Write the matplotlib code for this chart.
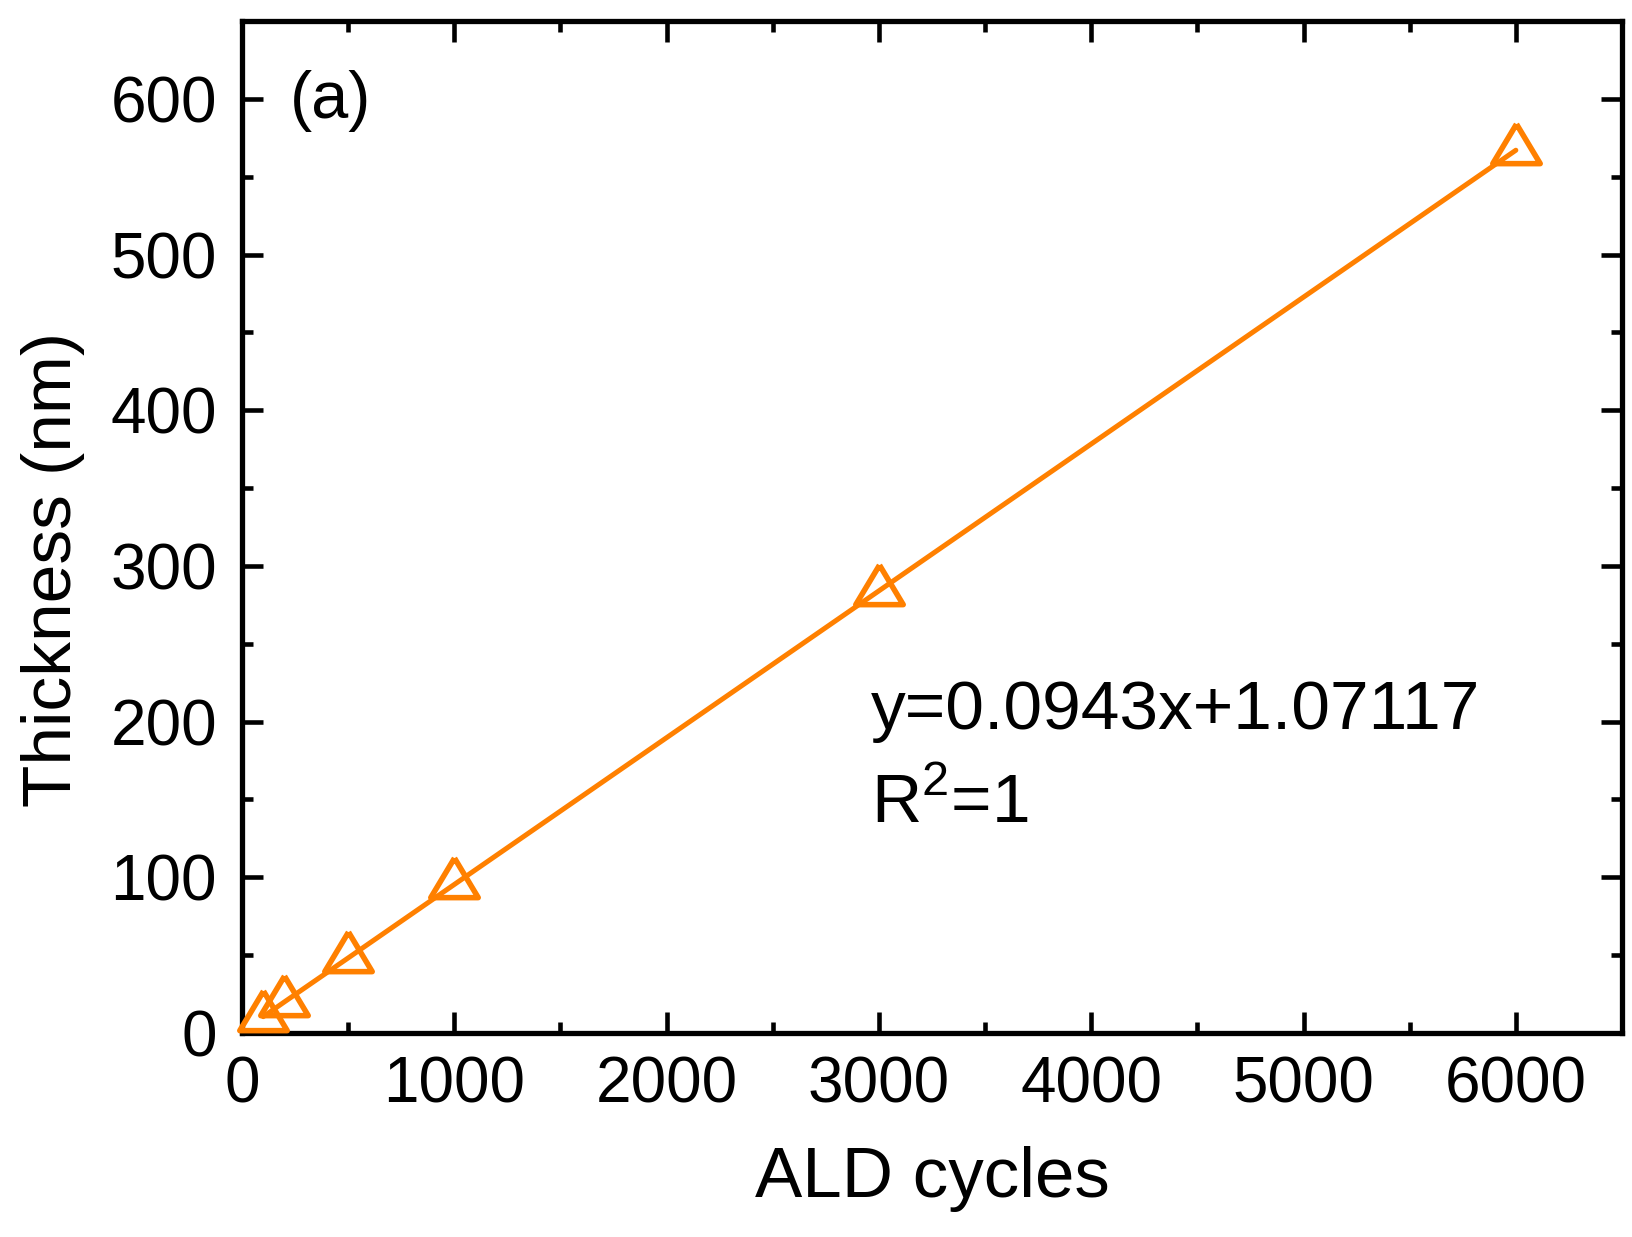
import numpy as np
import matplotlib
matplotlib.use("Agg")
import matplotlib.pyplot as plt
from matplotlib.ticker import MultipleLocator

# data
cycles = [100, 200, 500, 1000, 3000, 6000]
thickness = [10.5, 20.0, 48.2, 95.4, 284.0, 567.0]
fit_text = "y=0.0943x+1.07117"
r2_text = "R$^{2}$=1"

plt.rcParams['font.family'] = ['Liberation Sans', 'DejaVu Sans']
plt.rcParams['mathtext.fontset'] = 'custom'
plt.rcParams['mathtext.rm'] = 'Liberation Sans'

orange = '#FF8000'

fig = plt.figure(figsize=(16.32, 12.37), dpi=100)
ax = fig.add_axes([242/1632, 1 - 1033/1237, (1622-242)/1632, (1033-21)/1237])

# open triangle with centroid at the data point
tri = [(0, 26.7), (-24, -13.3), (24, -13.3), (0, 26.7)]

ax.plot(cycles, thickness, color=orange, lw=3.6, zorder=2, solid_capstyle='round')
ax.plot(cycles, thickness, ls='none', marker=tri, ms=38, mfc='none',
        mec=orange, mew=4.0, zorder=3, clip_on=False)

ax.set_xlim(0, 6500)
ax.set_ylim(0, 650)
ax.xaxis.set_major_locator(MultipleLocator(1000))
ax.xaxis.set_minor_locator(MultipleLocator(500))
ax.yaxis.set_major_locator(MultipleLocator(100))
ax.yaxis.set_minor_locator(MultipleLocator(50))

ax.tick_params(which='both', direction='in', top=True, right=True, width=3.3)
ax.tick_params(which='major', length=15, labelsize=46)
ax.tick_params(axis='x', which='major', pad=16)
ax.tick_params(axis='y', which='major', pad=18)
ax.tick_params(which='minor', length=8)
for s in ax.spines.values():
    s.set_linewidth(3.8)

ax.set_xlabel('ALD cycles', fontsize=51, labelpad=22)
ax.set_ylabel('Thickness (nm)', fontsize=50)
ax.yaxis.set_label_coords(-0.114, 0.458)

ax.text(226, 588, '(a)', fontsize=48, va='baseline', ha='left')
ax.text(2962, 195, fit_text, fontsize=50, va='baseline', ha='left')
ax.text(2962, 135, r2_text, fontsize=50, va='baseline', ha='left')

fig.savefig('out.png', dpi=100)
